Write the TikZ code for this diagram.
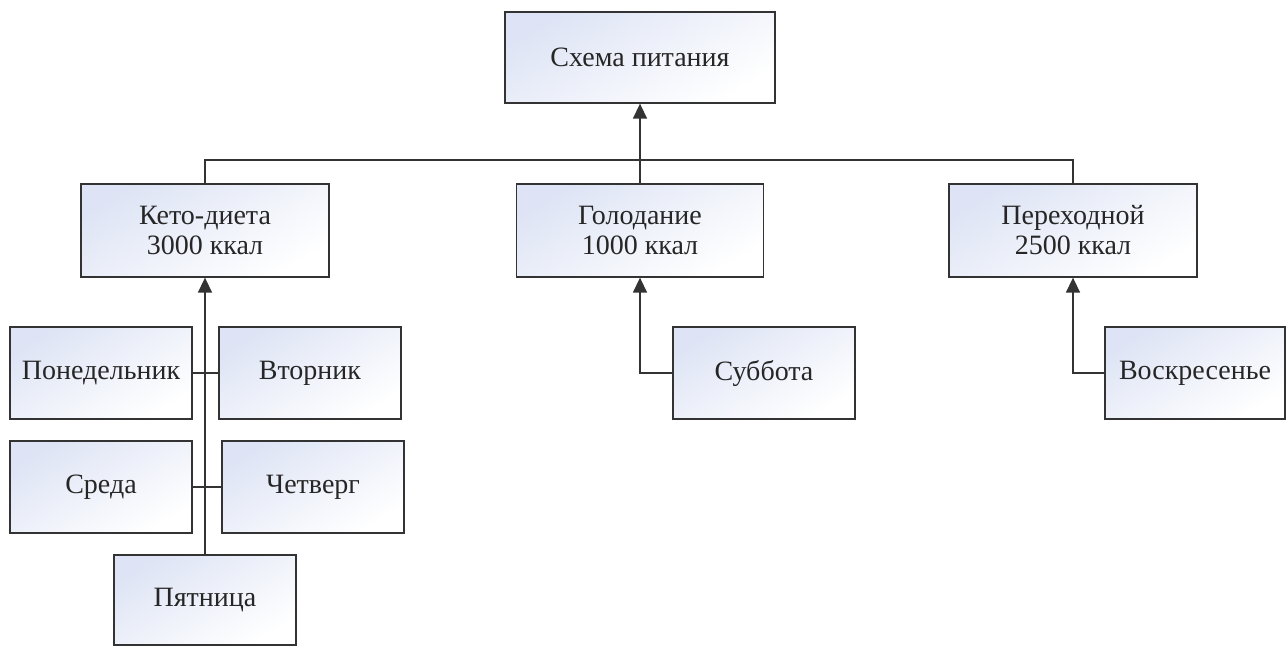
\documentclass[tikz,border=0pt]{standalone}
\usepackage{fontspec}
\setmainfont{Liberation Serif}
\usetikzlibrary{arrows.meta}
\definecolor{boxblue}{RGB}{222,228,245}
\tikzset{
  box/.style={draw=black!80, line width=1.3pt, rectangle, inner sep=2pt, align=center,
    left color=boxblue, right color=white, shading angle=30,
    font=\fontsize{28}{30}\selectfont, text=black!85},
  conn/.style={line width=1.5pt, draw=black!80},
  arr/.style={conn, -{Triangle[length=15pt,width=14pt]}}
}
\begin{document}
\begin{tikzpicture}[x=1pt,y=-1pt]
\useasboundingbox (0,0) rectangle (1286,646);
\node[box, minimum width=270pt, minimum height=91pt] (top) at (640,57.5) {Схема питания};
\node[box, minimum width=248pt, minimum height=93pt] (keto) at (205,230.5) {Кето-диета\\3000 ккал};
\node[box, minimum width=247pt, minimum height=93pt] (golod) at (640,230.5) {Голодание\\1000 ккал};
\node[box, minimum width=248pt, minimum height=93pt] (perekh) at (1073,230.5) {Переходной\\2500 ккал};
\node[box, minimum width=182pt, minimum height=92pt] (pon) at (101,373) {Понедельник};
\node[box, minimum width=182pt, minimum height=92pt] (vtor) at (310,373) {Вторник};
\node[box, minimum width=182pt, minimum height=92pt] (sreda) at (101,487) {Среда};
\node[box, minimum width=182pt, minimum height=92pt] (chetv) at (313,487) {Четверг};
\node[box, minimum width=182pt, minimum height=90pt] (pyatn) at (205,600) {Пятница};
\node[box, minimum width=182pt, minimum height=92pt] (subb) at (764,373) {Суббота};
\node[box, minimum width=180pt, minimum height=92pt] (vosk) at (1195,373) {Воскресенье};
\coordinate (bus) at (640,160);
\draw[conn] (keto.north) -- (keto.north |- bus) -- (perekh.north |- bus) -- (perekh.north);
\draw[arr] (golod.north) -- (top.south);
\draw[arr] (pyatn.north) -- (keto.south);
\draw[conn] (pon.east) -- (vtor.west);
\draw[conn] (sreda.east) -- (chetv.west);
\draw[arr] (subb.west) -| (golod.south);
\draw[arr] (vosk.west) -| (perekh.south);
\end{tikzpicture}
\end{document}
